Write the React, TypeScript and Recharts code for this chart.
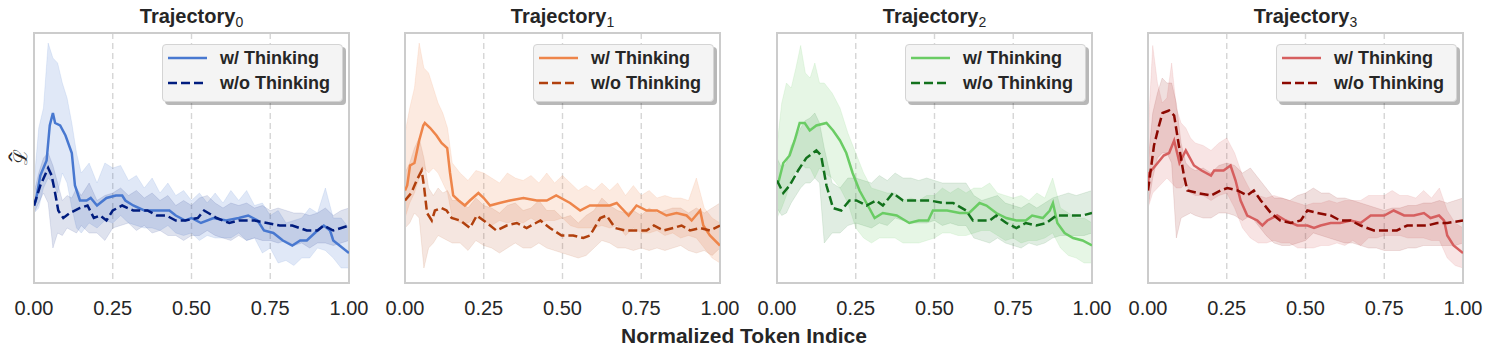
import React from 'react';
import { ComposedChart, Line, Area, XAxis, YAxis, CartesianGrid, ReferenceArea } from 'recharts';

const FONT = '"Liberation Sans", Arial, Helvetica, sans-serif';

const xTicks = [0, 0.25, 0.5, 0.75, 1];
const xTickLabels = ['0.00', '0.25', '0.50', '0.75', '1.00'];
const subscripts = ['0', '1', '2', '3'];
const seriesNames = ['w/ Thinking', 'w/o Thinking'];
const xAxisTitle = 'Normalized Token Indice';
const yAxisSymbol = 'ℒ';
const yAxisHat = 'ˆ';

const rawX = [0, 0.015, 0.03, 0.045, 0.06, 0.075, 0.09, 0.105, 0.12, 0.135, 0.15, 0.175, 0.2, 0.225, 0.25, 0.275, 0.3, 0.325, 0.35, 0.375, 0.4, 0.425, 0.45, 0.475, 0.5, 0.525, 0.55, 0.575, 0.6, 0.625, 0.65, 0.675, 0.7, 0.725, 0.75, 0.775, 0.8, 0.825, 0.85, 0.875, 0.9, 0.925, 0.95, 0.975, 1];

// Trajectory 0 raw bands
const t0WithHi = [40, 62, 70, 96, 90, 88, 80, 74, 64, 52, 44, 48, 40, 48, 46, 47, 41, 43, 38, 42, 36, 40, 35, 37, 33, 36, 32, 36, 32, 37, 33, 37, 31, 32, 27, 29, 24, 25, 26, 30, 28, 38, 26, 26, 22];
const t0WithLo = [28, 30, 38, 42, 40, 36, 44, 40, 30, 22, 20, 24, 22, 25, 24, 27, 24, 23, 22, 22, 21, 23, 20, 19, 20, 17, 19, 18, 18, 18, 20, 17, 18, 12, 14, 8, 9, 7, 10, 10, 14, 13, 10, 6, 6];
const t0WoHi = [36, 44, 50, 52, 47, 40, 33, 35, 34, 38, 35, 40, 33, 35, 36, 38, 35, 37, 34, 36, 33, 35, 31, 33, 31, 34, 35, 32, 30, 32, 31, 32, 30, 31, 29, 30, 29, 28, 28, 27, 28, 30, 27, 29, 30];
const t0WoLo = [28, 32, 36, 32, 14, 20, 19, 22, 21, 20, 23, 20, 20, 17, 22, 23, 24, 21, 23, 20, 21, 19, 19, 17, 19, 19, 21, 19, 18, 17, 19, 17, 18, 17, 17, 16, 17, 15, 16, 14, 16, 16, 15, 16, 17];

// Trajectory 1 raw bands
const t1WithHi = [60, 70, 78, 96, 86, 84, 78, 72, 68, 62, 48, 44, 41, 45, 44, 42, 40, 44, 42, 41, 43, 40, 44, 40, 43, 40, 37, 39, 37, 40, 37, 40, 35, 39, 35, 37, 34, 35, 34, 34, 33, 42, 30, 26, 24];
const t1WithLo = [26, 32, 36, 42, 46, 44, 46, 44, 40, 36, 26, 24, 24, 26, 25, 23, 25, 24, 25, 24, 26, 24, 25, 25, 26, 23, 22, 22, 22, 23, 22, 23, 19, 22, 20, 20, 21, 19, 20, 18, 19, 18, 14, 10, 8];
const t1WoHi = [44, 48, 54, 58, 50, 38, 35, 38, 36, 37, 33, 33, 30, 34, 31, 30, 28, 31, 32, 29, 30, 33, 29, 29, 26, 27, 24, 27, 29, 34, 31, 29, 28, 29, 27, 30, 28, 29, 30, 30, 28, 30, 28, 30, 32];
const t1WoLo = [22, 24, 28, 26, 6, 14, 16, 19, 18, 17, 16, 16, 13, 17, 15, 14, 12, 14, 16, 14, 14, 16, 14, 13, 12, 11, 10, 11, 14, 17, 16, 14, 14, 13, 14, 13, 14, 13, 14, 15, 13, 12, 13, 11, 14];

// Trajectory 2 raw bands
const t2WithHi = [55, 72, 80, 78, 86, 95, 84, 82, 88, 80, 80, 76, 70, 60, 52, 44, 38, 37, 36, 36, 33, 34, 33, 35, 35, 38, 36, 38, 36, 38, 38, 40, 36, 35, 34, 35, 33, 36, 34, 42, 30, 28, 26, 26, 24];
const t2WithLo = [26, 30, 35, 42, 45, 48, 46, 46, 42, 46, 44, 42, 38, 32, 22, 18, 16, 18, 18, 18, 16, 16, 16, 17, 18, 20, 20, 19, 19, 20, 21, 21, 19, 17, 18, 16, 17, 17, 18, 20, 14, 11, 10, 8, 8];
const t2WoHi = [50, 46, 48, 55, 58, 62, 65, 66, 68, 64, 54, 40, 38, 42, 42, 41, 40, 43, 41, 44, 42, 42, 41, 42, 41, 40, 40, 40, 40, 35, 33, 34, 35, 32, 31, 30, 32, 30, 32, 34, 35, 36, 35, 36, 37];
const t2WoLo = [30, 27, 28, 32, 35, 38, 40, 40, 42, 40, 16, 20, 20, 23, 24, 23, 22, 24, 23, 26, 25, 24, 24, 24, 25, 23, 24, 23, 23, 18, 17, 16, 18, 16, 15, 14, 16, 15, 16, 18, 19, 19, 19, 19, 20];

// Trajectory 3 raw bands
const t3WithHi = [60, 95, 80, 72, 74, 88, 70, 64, 62, 58, 56, 55, 53, 56, 58, 52, 43, 37, 35, 34, 35, 34, 33, 32, 31, 32, 32, 33, 32, 33, 33, 33, 35, 35, 35, 37, 35, 35, 34, 37, 34, 38, 29, 24, 22];
const t3WithLo = [30, 36, 38, 40, 42, 40, 38, 38, 40, 36, 35, 35, 33, 35, 36, 30, 22, 18, 16, 16, 17, 16, 16, 14, 14, 14, 15, 15, 16, 15, 17, 15, 18, 18, 19, 19, 19, 18, 18, 18, 17, 17, 10, 7, 6];
const t3WoHi = [48, 68, 76, 82, 80, 80, 72, 56, 48, 46, 45, 46, 44, 47, 48, 47, 44, 46, 42, 38, 34, 34, 33, 35, 36, 38, 36, 36, 34, 34, 33, 32, 31, 30, 29, 30, 30, 31, 31, 32, 32, 33, 32, 33, 34];
const t3WoLo = [30, 42, 50, 52, 52, 48, 18, 26, 27, 28, 27, 26, 26, 28, 28, 27, 25, 27, 23, 19, 16, 15, 15, 16, 17, 20, 19, 18, 17, 16, 16, 15, 14, 14, 13, 13, 13, 14, 14, 15, 15, 15, 15, 15, 16];

// Smoothed curves [x, value]
const t0With = [[0, 31], [0.006, 33], [0.02, 43], [0.04, 49], [0.05, 63], [0.06, 68], [0.067, 64], [0.083, 63], [0.1, 59], [0.12, 52], [0.13, 39], [0.146, 33], [0.167, 33], [0.18, 34], [0.2, 31], [0.23, 34], [0.26, 35], [0.28, 35], [0.29, 33], [0.315, 31], [0.35, 29], [0.39, 29], [0.43, 29], [0.45, 27], [0.48, 25], [0.5, 26], [0.53, 24], [0.57, 26], [0.61, 25], [0.65, 26], [0.68, 27], [0.71, 25], [0.73, 21], [0.76, 20], [0.79, 17], [0.82, 15], [0.845, 17], [0.866, 17], [0.9, 21], [0.92, 23], [0.94, 21], [0.95, 17], [0.97, 15], [1, 12]];
const t0Without = [[0, 31], [0.02, 39], [0.045, 46], [0.056, 43], [0.067, 36], [0.077, 29], [0.093, 26], [0.114, 28], [0.146, 30], [0.17, 31], [0.19, 26], [0.21, 27], [0.23, 25], [0.25, 29], [0.28, 31], [0.315, 29], [0.36, 29], [0.39, 27], [0.42, 27], [0.45, 25], [0.48, 25], [0.52, 26], [0.54, 29], [0.58, 26], [0.62, 24], [0.65, 25], [0.7, 25], [0.74, 24], [0.78, 23], [0.82, 23], [0.866, 21], [0.9, 21], [0.92, 23], [0.95, 21], [1, 23]];
const t1With = [[0, 37], [0.007, 39], [0.016, 47], [0.03, 48], [0.045, 57], [0.058, 63], [0.063, 64], [0.08, 62], [0.1, 59], [0.116, 56], [0.134, 54], [0.143, 44], [0.153, 35], [0.17, 33], [0.19, 31], [0.206, 33], [0.233, 36], [0.25, 34], [0.27, 31], [0.3, 32], [0.333, 33], [0.376, 34], [0.418, 33], [0.45, 33], [0.48, 35], [0.524, 32], [0.556, 29], [0.587, 31], [0.62, 31], [0.65, 31], [0.672, 32], [0.71, 27], [0.735, 31], [0.767, 29], [0.8, 29], [0.83, 27], [0.862, 28], [0.894, 27], [0.91, 25], [0.937, 29], [0.947, 23], [0.968, 19], [1, 15]];
const t1Without = [[0, 33], [0.02, 36], [0.037, 41], [0.053, 45], [0.06, 39], [0.07, 28], [0.085, 25], [0.095, 29], [0.116, 30], [0.132, 29], [0.148, 26], [0.175, 25], [0.206, 22], [0.228, 27], [0.26, 24], [0.29, 21], [0.323, 23], [0.355, 24], [0.386, 22], [0.43, 25], [0.46, 22], [0.497, 19], [0.534, 19], [0.566, 18], [0.587, 19], [0.62, 26], [0.64, 27], [0.667, 22], [0.7, 21], [0.735, 21], [0.767, 21], [0.79, 23], [0.82, 21], [0.852, 22], [0.878, 23], [0.905, 21], [0.937, 22], [0.968, 21], [1, 23]];
const t2With = [[0, 40], [0.006, 41], [0.02, 48], [0.04, 51], [0.056, 57], [0.072, 64], [0.088, 64], [0.104, 61], [0.125, 63], [0.157, 64], [0.178, 61], [0.2, 57], [0.22, 52], [0.24, 44], [0.262, 37], [0.284, 32], [0.31, 26], [0.336, 28], [0.38, 27], [0.42, 24], [0.45, 25], [0.48, 25], [0.495, 29], [0.54, 29], [0.58, 28], [0.61, 28], [0.643, 32], [0.665, 31], [0.696, 28], [0.728, 26], [0.76, 25], [0.79, 25], [0.81, 27], [0.844, 26], [0.866, 29], [0.876, 32], [0.89, 24], [0.913, 20], [0.94, 18], [0.97, 17], [1, 15]];
const t2Without = [[0, 41], [0.02, 36], [0.04, 39], [0.067, 45], [0.093, 50], [0.125, 53], [0.14, 51], [0.157, 39], [0.178, 30], [0.204, 29], [0.23, 33], [0.252, 33], [0.284, 31], [0.315, 33], [0.336, 31], [0.368, 36], [0.4, 33], [0.442, 33], [0.485, 33], [0.527, 32], [0.559, 32], [0.6, 29], [0.622, 25], [0.643, 25], [0.675, 25], [0.696, 27], [0.728, 24], [0.76, 22], [0.79, 24], [0.823, 23], [0.855, 24], [0.887, 27], [0.929, 27], [0.97, 27], [1, 28]];
const t3With = [[0, 40], [0.004, 44], [0.024, 47], [0.05, 51], [0.067, 52], [0.083, 57], [0.1, 48], [0.12, 53], [0.146, 47], [0.17, 45], [0.2, 43], [0.21, 45], [0.24, 45], [0.262, 47], [0.278, 41], [0.294, 33], [0.315, 27], [0.347, 25], [0.363, 23], [0.379, 25], [0.41, 27], [0.437, 25], [0.474, 23], [0.506, 23], [0.527, 22], [0.548, 23], [0.58, 24], [0.61, 24], [0.643, 25], [0.675, 24], [0.707, 27], [0.75, 27], [0.78, 29], [0.813, 27], [0.844, 27], [0.876, 28], [0.897, 26], [0.924, 27], [0.94, 25], [0.95, 19], [0.97, 15], [1, 12]];
const t3Without = [[0, 37], [0.019, 55], [0.035, 63], [0.046, 68], [0.067, 69], [0.083, 67], [0.098, 55], [0.114, 43], [0.125, 37], [0.157, 36], [0.2, 35], [0.23, 37], [0.252, 38], [0.284, 37], [0.315, 35], [0.336, 37], [0.358, 33], [0.39, 28], [0.42, 25], [0.453, 24], [0.485, 25], [0.506, 29], [0.538, 28], [0.58, 27], [0.61, 25], [0.643, 25], [0.675, 23], [0.717, 21], [0.76, 21], [0.79, 21], [0.823, 23], [0.855, 23], [0.887, 23], [0.918, 24], [0.95, 24], [1, 25]];

const withColors = ['#4878d0', '#ee854a', '#6acc64', '#d65f5f'];
const withoutColors = ['#001c7f', '#b1400d', '#12711c', '#8c0800'];
const panelLefts = [34, 405, 777, 1148];
const PLOT_W = 315;

const panels = [
  { w: t0With, o: t0Without, wl: t0WithLo, wh: t0WithHi, ol: t0WoLo, oh: t0WoHi },
  { w: t1With, o: t1Without, wl: t1WithLo, wh: t1WithHi, ol: t1WoLo, oh: t1WoHi },
  { w: t2With, o: t2Without, wl: t2WithLo, wh: t2WithHi, ol: t2WoLo, oh: t2WoHi },
  { w: t3With, o: t3Without, wl: t3WithLo, wh: t3WithHi, ol: t3WoLo, oh: t3WoHi },
];

function Legend2({ c1, c2, left }: { c1: string; c2: string; left: number }) {
  return (
    <div style={{ position: 'absolute', left, top: 44, width: 181, height: 58, background: '#f4f4f4', border: '1px solid #d4d4d4', borderRadius: 4, boxShadow: '3px 3px 0 rgba(0,0,0,0.28)', boxSizing: 'border-box' }}>
      <svg width={181} height={58} style={{ position: 'absolute', left: -1, top: -1 }}>
        <line x1={6} x2={45} y1={14} y2={14} stroke={c1} strokeWidth={2.5} />
        <line x1={6} x2={45} y1={39} y2={39} stroke={c2} strokeWidth={2.5} strokeDasharray="9 4" />
        <text x={58} y={14} dy="0.35em" fontFamily={FONT} fontWeight="bold" fontSize={18} fill="#262626">{seriesNames[0]}</text>
        <text x={58} y={39} dy="0.35em" fontFamily={FONT} fontWeight="bold" fontSize={18} fill="#262626">{seriesNames[1]}</text>
      </svg>
    </div>
  );
}

function Panel({ idx }: { idx: number }) {
  const p = panels[idx];
  const L = panelLefts[idx];
  const rawData = rawX.map((x, i) => ({ x, w: [p.wl[i], p.wh[i]], o: [p.ol[i], p.oh[i]] }));
  const wData = p.w.map(([x, y]) => ({ x, y }));
  const oData = p.o.map(([x, y]) => ({ x, y }));
  const cw = withColors[idx];
  const co = withoutColors[idx];
  return (
    <>
      <div style={{ position: 'absolute', left: L, top: 5, width: PLOT_W, textAlign: 'center', fontFamily: FONT, fontWeight: 'bold', fontSize: 20, color: '#262626', whiteSpace: 'nowrap' }}>
        Trajectory<span style={{ fontSize: 14, fontWeight: 'normal', position: 'relative', top: 4 }}>{subscripts[idx]}</span>
      </div>
      <div style={{ position: 'absolute', left: L - 20, top: 0 }}>
        <ComposedChart width={PLOT_W + 40} height={356} margin={{ top: 33, right: 20, left: 20, bottom: 43 }}>
          <CartesianGrid horizontal={false} stroke="#d6d6d6" strokeDasharray="6 4" strokeWidth={1.4} />
          <XAxis type="number" dataKey="x" domain={[0, 1]} ticks={xTicks} interval={0} allowDataOverflow
            tickFormatter={(v: number) => xTickLabels[xTicks.indexOf(v)] ?? String(v)}
            height={30} tickLine={false} axisLine={false} tickMargin={12}
            tick={{ fill: '#262626', fontSize: 20, fontFamily: FONT }} />
          <YAxis type="number" domain={[0, 100]} hide allowDataOverflow />
          <Area data={rawData} dataKey="w" type="linear" stroke={cw} strokeOpacity={0.12} strokeWidth={1} fill={cw} fillOpacity={0.17} isAnimationActive={false} activeDot={false} />
          <Area data={rawData} dataKey="o" type="linear" stroke={co} strokeOpacity={0.1} strokeWidth={1} fill={co} fillOpacity={0.13} isAnimationActive={false} activeDot={false} />
          <Line data={wData} dataKey="y" type="linear" stroke={cw} strokeWidth={2.5} dot={false} activeDot={false} isAnimationActive={false} />
          <Line data={oData} dataKey="y" type="linear" stroke={co} strokeWidth={2.5} strokeDasharray="9 4" dot={false} activeDot={false} isAnimationActive={false} />
          <ReferenceArea x1={0} x2={1} y1={0} y2={100} fill="none" stroke="#cccccc" strokeWidth={2} ifOverflow="visible" />
        </ComposedChart>
      </div>
      <Legend2 c1={cw} c2={co} left={L + PLOT_W - 187} />
    </>
  );
}

export default function App() {
  return (
    <div style={{ position: 'absolute', left: 0, top: 0, width: 1495, height: 356, background: '#ffffff', overflow: 'hidden' }}>
      {[0, 1, 2, 3].map((i) => <Panel key={i} idx={i} />)}
      <svg width={34} height={44} style={{ position: 'absolute', left: 0, top: 135 }}>
        <g transform="rotate(-90 17 22)">
          <text x={17} y={32} textAnchor="middle" fontFamily='"DejaVu Serif", serif' fontSize={19} fill="#262626">{yAxisSymbol}</text>
          <text x={17} y={28} textAnchor="middle" fontFamily='"DejaVu Sans", sans-serif' fontSize={18} fill="#262626" transform="translate(17 0) scale(1.8 1) translate(-17 0)">{yAxisHat}</text>
        </g>
      </svg>
      <div style={{ position: 'absolute', left: 544, top: 324, width: 400, textAlign: 'center', fontFamily: FONT, fontWeight: 'bold', fontSize: 21, color: '#262626' }}>
        {xAxisTitle}
      </div>
    </div>
  );
}
